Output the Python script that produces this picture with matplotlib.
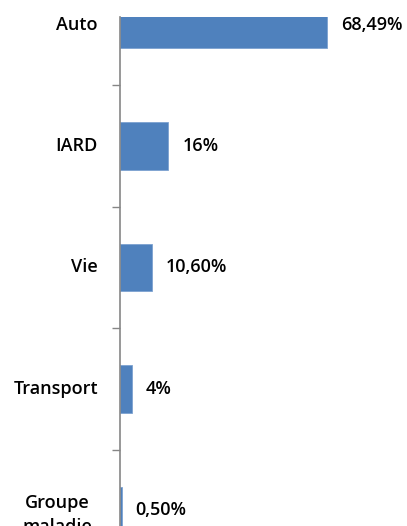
import matplotlib.pyplot as plt
import matplotlib.transforms as mtransforms

categories = ["Auto", "IARD", "Vie", "Transport", "Groupe\nmaladie"]
values = [68.49, 16, 10.60, 4, 0.50]
value_labels = ["68,49%", "16%", "10,60%", "4%", "0,50%"]

BAR_COLOR = "#4F81BD"
AXIS_COLOR = "#868686"
FONT = "Open Sans"

W, H = 407, 526
fig = plt.figure(figsize=(W / 100, H / 100), dpi=100)

# plot area in pixels: left edge at x=120, top at y=17, runs past the bottom
left, top, right, bottom = 120, 17, 392, 571
ax = fig.add_axes([left / W, (H - bottom) / H, (right - left) / W, (bottom - top) / H])

ypos = list(range(len(categories)))
ax.barh(ypos, values, height=0.39, color=BAR_COLOR, edgecolor="#7DA2D0", linewidth=0.6)

ax.set_xlim(0, 90)
ax.set_ylim(4.5, -0.062)

for s in ["top", "right", "bottom"]:
    ax.spines[s].set_visible(False)
ax.spines["left"].set_color(AXIS_COLOR)
ax.spines["left"].set_linewidth(1.2)
ax.set_xticks([])
ax.set_yticks([])
ax.set_yticks([0.5, 1.5, 2.5, 3.5], minor=True)
ax.tick_params(axis="y", which="minor", length=6, width=1, color=AXIS_COLOR, direction="out")

# category labels, right aligned left of the axis (multi-line one centred)
trans = mtransforms.blended_transform_factory(ax.transAxes, ax.transData)
for y, cat in zip(ypos, categories):
    if "\n" in cat:
        ax.text(-63 / (right - left), y + 0.04, cat, transform=trans, ha="center", va="center",
                fontsize=13, fontweight="semibold", family=FONT, linespacing=1.45)
    else:
        ax.text(-22 / (right - left), y, cat, transform=trans, ha="right", va="center",
                fontsize=13, fontweight="semibold", family=FONT)

# value labels just past each bar end
for y, v, lab in zip(ypos, values, value_labels):
    ax.annotate(lab, xy=(v, y), xytext=(14, 0), textcoords="offset pixels",
                ha="left", va="center", fontsize=13, fontweight="semibold", family=FONT)

fig.savefig("out.png", dpi=100)
